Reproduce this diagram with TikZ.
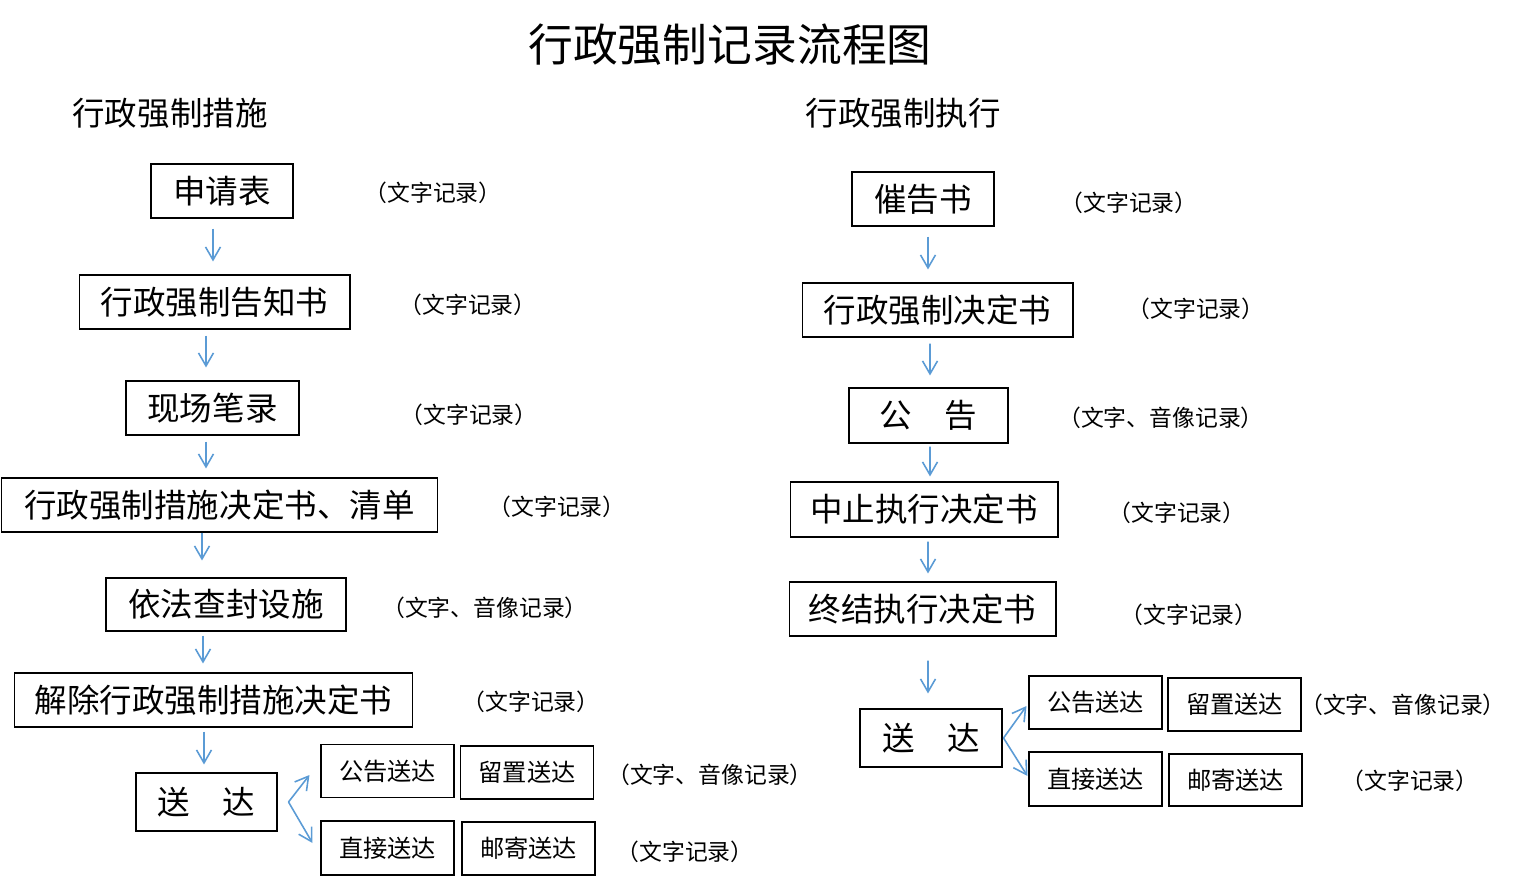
\documentclass[tikz,border=0pt]{standalone}
\usepackage{fontspec}
\setmainfont{Noto Sans CJK SC}
\usetikzlibrary{arrows.meta}
\definecolor{flow}{RGB}{91, 155, 213}

\begin{document}
\begin{tikzpicture}[x=0.02cm, y=-0.02cm,
  box/.style={draw=black, line width=0.6pt, inner sep=0pt,
    font=\fontsize{18.5pt}{20pt}\selectfont},
  sendbox/.style={box, minimum width=2.66cm, minimum height=1.06cm,
    font=\fontsize{13.8pt}{15pt}\selectfont},
  note/.style={font=\fontsize{13pt}{15pt}\selectfont},
  arr/.style={draw=flow, line width=0.9pt,
    -{Straight Barb[length=2.6mm, width=3mm]}}]
  \useasboundingbox (0, 0) rectangle (1539, 883);

  \node[font=\fontsize{25.5pt}{28pt}\selectfont] (title) at (730, 45) {行政强制记录流程图};
  \node[font=\fontsize{18.5pt}{20pt}\selectfont] (hcs) at (170, 113) {行政强制措施};
  \node[font=\fontsize{18.5pt}{20pt}\selectfont] (hzx) at (903, 113) {行政强制执行};

  % left column
  \node[box, minimum width=2.84cm, minimum height=1.08cm] (sqb) at (222, 191) {申请表};
  \node[box, minimum width=5.42cm, minimum height=1.08cm] (gzs) at (214.5, 302) {行政强制告知书};
  \node[box, minimum width=3.46cm, minimum height=1.08cm] (xbl) at (212.5, 408) {现场笔录};
  \node[box, minimum width=8.74cm, minimum height=1.08cm] (jds) at (219.5, 505) {行政强制措施决定书、清单};
  \node[box, minimum width=4.80cm, minimum height=1.06cm] (cfs) at (226, 604.5) {依法查封设施};
  \node[box, minimum width=7.98cm, minimum height=1.08cm] (jcs) at (213.5, 700) {解除行政强制措施决定书};
  \node[box, minimum width=2.82cm, minimum height=1.16cm] (sd) at (206.5, 802) {送　达};
  \node[sendbox] (ggsd) at (387.5, 771) {公告送达};
  \node[sendbox] (lzsd) at (527, 772.5) {留置送达};
  \node[sendbox, minimum height=1.08cm] (zjsd) at (387.5, 848) {直接送达};
  \node[sendbox] (yjsd) at (528.5, 848.5) {邮寄送达};

  \node[note] (n1) at (433, 193) {（文字记录）};
  \node[note] (n2) at (468, 305) {（文字记录）};
  \node[note] (n3) at (469, 415) {（文字记录）};
  \node[note] (n4) at (557, 507) {（文字记录）};
  \node[note] (n5) at (485, 608) {（文字、音像记录）};
  \node[note] (n6) at (531, 702) {（文字记录）};
  \node[note] (n7) at (710, 775) {（文字、音像记录）};
  \node[note] (n8) at (685, 852) {（文字记录）};

  \draw[arr] ([shift={(-9, 10)}]sqb.south) -- ([shift={(-1.5, -13)}]gzs.north);
  \draw[arr] ([shift={(-8.5, 6)}]gzs.south) -- ([shift={(-6.5, -13)}]xbl.north);
  \draw[arr] ([shift={(-6.5, 6)}]xbl.south) -- ([shift={(-13.5, -9)}]jds.north);
  \draw[arr] ([shift={(-17.5, 0)}]jds.south) -- ([shift={(-24, -17)}]cfs.north);
  \draw[arr] ([shift={(-23, 4)}]cfs.south) -- ([shift={(-10.5, -9)}]jcs.north);
  \draw[arr] ([shift={(-9.5, 4)}]jcs.south) -- ([shift={(-2.5, -8)}]sd.north);
  \draw[arr] ([shift={(11, 0)}]sd.east) -- ([shift={(-11, 4)}]ggsd.west);
  \draw[arr] ([shift={(11, 0)}]sd.east) -- ([shift={(-8, -5)}]zjsd.west);

  % right column
  \node[box, minimum width=2.84cm, minimum height=1.08cm] (cgs) at (923, 199) {催告书};
  \node[box, minimum width=5.42cm, minimum height=1.08cm] (jd) at (937.5, 310) {行政强制决定书};
  \node[box, minimum width=3.18cm, minimum height=1.10cm] (gg) at (928.5, 415.5) {公　告};
  \node[box, minimum width=5.36cm, minimum height=1.10cm] (zz) at (924, 509.5) {中止执行决定书};
  \node[box, minimum width=5.34cm, minimum height=1.08cm] (zj) at (922.5, 609) {终结执行决定书};
  \node[box, minimum width=2.84cm, minimum height=1.16cm] (sdr) at (931, 738) {送　达};
  \node[sendbox] (ggsdr) at (1095.5, 702.5) {公告送达};
  \node[sendbox] (lzsdr) at (1234.5, 704.5) {留置送达};
  \node[sendbox, minimum height=1.08cm] (zjsdr) at (1095.5, 779) {直接送达};
  \node[sendbox, minimum height=1.04cm] (yjsdr) at (1235.5, 780) {邮寄送达};

  \node[note] (r1) at (1129, 203) {（文字记录）};
  \node[note] (r2) at (1196, 309) {（文字记录）};
  \node[note] (r3) at (1161, 418) {（文字、音像记录）};
  \node[note] (r4) at (1177, 513) {（文字记录）};
  \node[note] (r5) at (1189, 615) {（文字记录）};
  \node[note] (r6) at (1403, 705) {（文字、音像记录）};
  \node[note] (r7) at (1410, 781) {（文字记录）};

  \draw[arr] ([shift={(5, 10)}]cgs.south) -- ([shift={(-9.5, -13)}]jd.north);
  \draw[arr] ([shift={(-7.5, 6)}]jd.south) -- ([shift={(1.5, -12)}]gg.north);
  \draw[arr] ([shift={(1.5, 3)}]gg.south) -- ([shift={(6, -5)}]zz.north);
  \draw[arr] ([shift={(4, 4)}]zz.south) -- ([shift={(5.5, -8)}]zj.north);
  \draw[arr] ([shift={(5.5, 24)}]zj.south) -- ([shift={(-3, -15)}]sdr.north);
  \draw[arr] ([shift={(1, 0)}]sdr.east) -- ([shift={(-2, 3.5)}]ggsdr.west);
  \draw[arr] ([shift={(1, 0)}]sdr.east) -- ([shift={(-1, -3)}]zjsdr.west);
\end{tikzpicture}
\end{document}
